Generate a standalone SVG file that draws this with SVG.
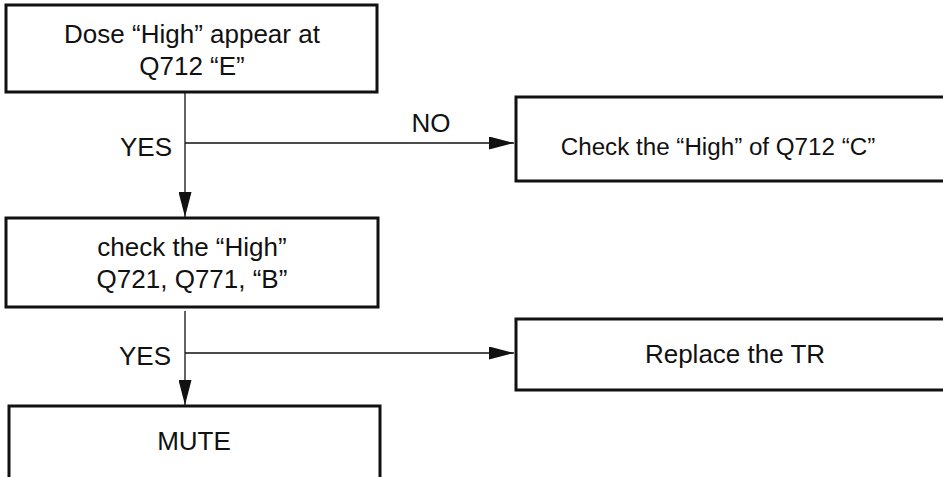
<svg xmlns="http://www.w3.org/2000/svg" width="943" height="477" viewBox="0 0 943 477">
<style>
.box{fill:#fff;stroke:#111;stroke-width:3}
.t{font-family:"Liberation Sans",Arial,Helvetica,sans-serif;font-size:26px;fill:#111}
.c{text-anchor:middle}
.e{text-anchor:end}
.ln{stroke:#111;stroke-width:1.3;fill:none}
</style>
<defs>
<marker id="ah" viewBox="0 0 25 13" refX="25" refY="6.5" markerWidth="25" markerHeight="13" markerUnits="userSpaceOnUse" orient="auto">
<path d="M0,0 L25,6.5 L0,13 Z" fill="#111"/>
</marker>
</defs>
<rect width="943" height="477" fill="#fff"/>
<g id="connectors">
<line class="ln" x1="185" y1="93" x2="185" y2="217" marker-end="url(#ah)"/>
<line class="ln" x1="185" y1="143" x2="514" y2="143" marker-end="url(#ah)"/>
<line class="ln" x1="185" y1="311" x2="185" y2="405" marker-end="url(#ah)"/>
<line class="ln" x1="185" y1="353" x2="514" y2="353" marker-end="url(#ah)"/>
<text class="t e" x="172" y="156">YES</text>
<text class="t c" x="431" y="132">NO</text>
<text class="t e" x="171" y="365">YES</text>
</g>
<g id="n1">
<rect class="box" x="6" y="5" width="371" height="87"/>
<text class="t c" x="192" y="43">Dose “High” appear at</text>
<text class="t c" x="192" y="75">Q712 “E”</text>
</g>
<g id="n2">
<rect class="box" x="516" y="97" width="460" height="84"/>
<text class="t c" x="718" y="155" style="font-size:24.2px">Check the “High” of Q712 “C”</text>
</g>
<g id="n3">
<rect class="box" x="6" y="218" width="372" height="89"/>
<text class="t c" x="192" y="256">check the “High”</text>
<text class="t c" x="192" y="288">Q721, Q771, “B”</text>
</g>
<g id="n4">
<rect class="box" x="516" y="319" width="460" height="71"/>
<text class="t c" x="735" y="363">Replace the TR</text>
</g>
<g id="n5">
<rect class="box" x="9" y="406" width="371" height="100"/>
<text class="t c" x="194" y="450">MUTE</text>
</g>
</svg>
